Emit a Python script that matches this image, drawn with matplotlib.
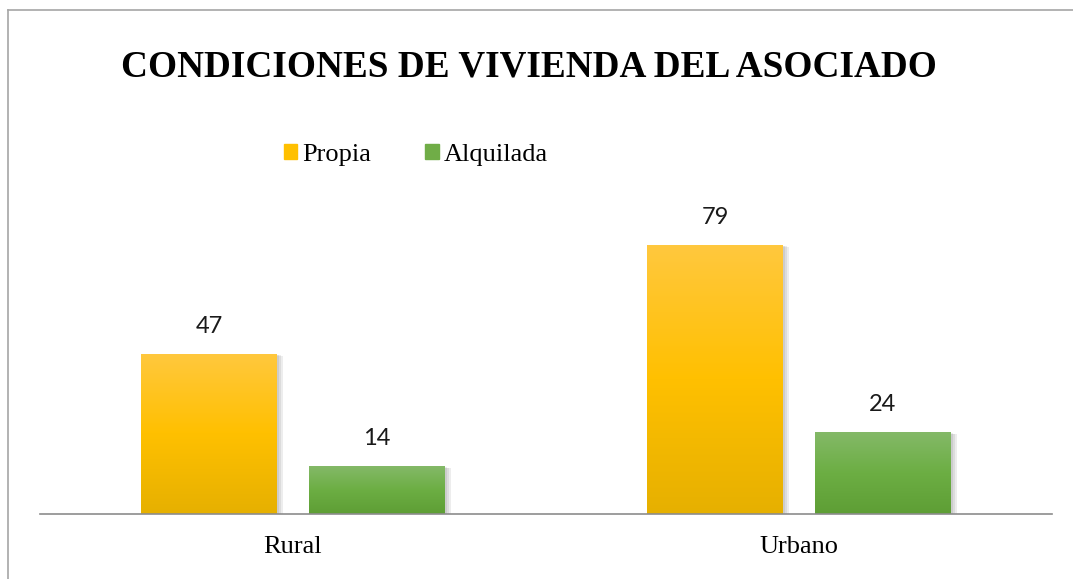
import numpy as np
import matplotlib.pyplot as plt
from matplotlib.colors import LinearSegmentedColormap
from matplotlib.lines import Line2D

categories = ["Rural", "Urbano"]
propia = [47, 79]
alquilada = [14, 24]
series_names = ["Propia", "Alquilada"]

W, H = 1073, 579
fig = plt.figure(figsize=(W / 100, H / 100), dpi=100)

# axes placed in pixel terms: baseline at y=514, x from 40 to 1052
ax = fig.add_axes([40 / W, (H - 514) / H, 1012 / W, 300 / H])
ymax = 300 / 3.405
ax.set_xlim(-0.5, 1.5)
ax.set_ylim(0, ymax)

x = np.arange(len(categories))
width = 0.267
off = 0.166

cmaps = [
    LinearSegmentedColormap.from_list("yel", ["#E6B000", "#FFC000", "#FFC83E"]),
    LinearSegmentedColormap.from_list("grn", ["#5E9E35", "#6CAE43", "#84B968"]),
]
legend_cols = ["#FFC000", "#70AD47"]

grad = np.linspace(0, 1, 256).reshape(-1, 1)
for k, (vals, cm) in enumerate(zip([propia, alquilada], cmaps)):
    pos = x - off if k == 0 else x + off
    # soft shadow
    for i, s in enumerate([0.012, 0.008, 0.004]):
        ax.bar(pos + s, vals, width, bottom=-0.6 + i * 0.2, color="black",
               alpha=0.07, zorder=1, linewidth=0)
    bars = ax.bar(pos, vals, width, color="none", zorder=2, linewidth=0,
                  label=series_names[k])
    for b, v in zip(bars, vals):
        im = ax.imshow(grad, cmap=cm, origin="lower", aspect="auto",
                       extent=[b.get_x(), b.get_x() + b.get_width(), 0, v],
                       zorder=2)
        im.set_clip_path(b)
        ax.text(b.get_x() + b.get_width() / 2, v + 8.2, str(v),
                ha="center", va="center", fontsize=17, family="Lato",
                color="#1a1a1a")

ax.set_xlim(-0.5, 1.5)
ax.set_ylim(0, ymax)
for sp in ["top", "right", "left"]:
    ax.spines[sp].set_visible(False)
ax.spines["bottom"].set_color("#8C8C8C")
ax.spines["bottom"].set_linewidth(1.2)
ax.set_yticks([])
ax.set_xticks(x)
ax.set_xticklabels(categories, family="Liberation Serif", fontsize=19)
ax.tick_params(axis="x", length=0, pad=16)

fig.text(529 / W, 1 - 67 / H, "CONDICIONES DE VIVIENDA DEL ASOCIADO",
         ha="center", va="center", fontsize=26.8, fontweight="bold",
         family="Liberation Serif")

handles = [plt.Rectangle((0, 0), 1, 1, color=c) for c in legend_cols]
fig.legend(handles, series_names, loc="center", bbox_to_anchor=(416 / W, 1 - 155 / H),
           ncol=2, frameon=False, prop={"family": "Liberation Serif", "size": 19},
           handlelength=0.5, handleheight=0.5, handletextpad=0.2, columnspacing=2.05)

# outer chart border (left and top visible)
fig.add_artist(Line2D([8 / W, 8 / W], [0, 1 - 10 / H], color="#A6A6A6", lw=1.2))
fig.add_artist(Line2D([8 / W, 1], [1 - 10 / H, 1 - 10 / H], color="#A6A6A6", lw=1.2))

fig.savefig("out.png", dpi=100)
